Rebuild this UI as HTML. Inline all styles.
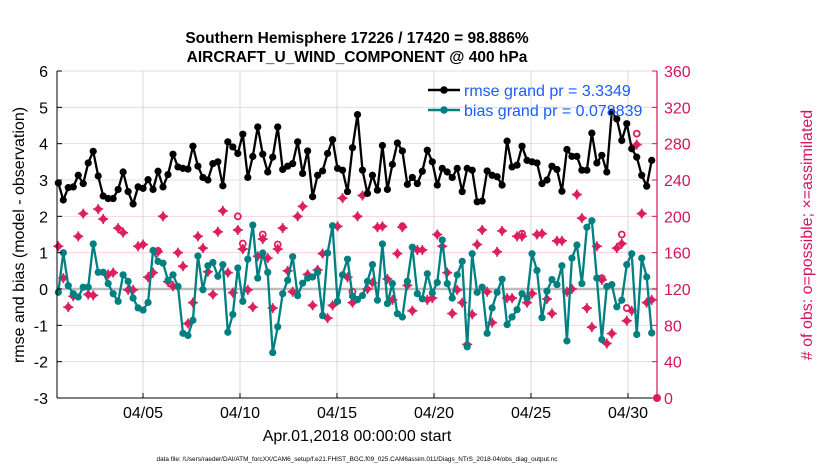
<!DOCTYPE html>
<html><head><meta charset="utf-8"><style>
body{margin:0;background:#fff;}
svg text{font-family:"Liberation Sans",sans-serif;}
</style></head><body>
<svg id="chart" width="830" height="470" viewBox="0 0 830 470" xmlns="http://www.w3.org/2000/svg">
<g id="grid"></g>
<g id="marks"></g>
<g id="axes"></g>
<text x="357" y="43" text-anchor="middle" font-size="15.5" font-weight="bold">Southern Hemisphere 17226 / 17420 = 98.886%</text>
<text x="357" y="62" text-anchor="middle" font-size="15.5" font-weight="bold">AIRCRAFT_U_WIND_COMPONENT @ 400 hPa</text>
<text transform="translate(24,235) rotate(-90)" text-anchor="middle" font-size="16">rmse and bias (model - observation)</text>
<text transform="translate(812,235) rotate(-90)" text-anchor="middle" font-size="16" fill="#d4145a"># of obs: o=possible; ×=assimilated</text>
<text x="357" y="441" text-anchor="middle" font-size="16">Apr.01,2018 00:00:00 start</text>
<text x="357" y="461" text-anchor="middle" font-size="6.4">data file: /Users/raeder/DAI/ATM_forcXX/CAM6_setup/f.e21.FHIST_BGC.f09_025.CAM6assim.011/Diags_NTrS_2018-04/obs_diag_output.nc</text>
<g>
<line x1="428" y1="90" x2="460" y2="90" stroke="#000" stroke-width="2.5"/><circle cx="444" cy="90" r="3.8" fill="#000"/>
<text x="464" y="96" font-size="16" fill="#1a5cff">rmse grand pr = 3.3349</text>
<line x1="428" y1="110" x2="460" y2="110" stroke="#008080" stroke-width="2.5"/><circle cx="444" cy="110" r="3.8" fill="#008080"/>
<text x="464" y="116" font-size="16" fill="#1a5cff">bias grand pr = 0.078839</text>
</g>
</svg>
<script>
const rmse=[2.92,2.45,2.79,2.81,3.13,2.90,3.47,3.79,3.11,2.56,2.49,2.49,2.74,3.22,2.68,2.34,2.81,2.77,3.01,2.74,3.24,2.81,3.15,3.71,3.36,3.32,3.30,3.93,3.38,3.07,3.00,
3.45,3.50,2.84,4.05,3.91,3.73,4.26,3.07,3.65,4.46,3.71,3.22,3.63,4.46,3.29,3.38,3.45,4.05,3.18,3.80,2.54,3.13,3.25,3.73,4.11,3.32,3.27,2.68,3.89,4.80,
3.27,2.63,3.13,2.72,3.95,2.74,3.43,4.02,3.80,2.88,3.07,2.90,3.24,3.82,3.50,2.86,3.32,3.22,3.07,3.32,2.68,3.32,3.27,2.40,2.42,3.25,3.13,3.09,2.86,4.07,
3.36,3.41,3.93,3.54,3.50,3.47,2.90,3.00,3.38,3.29,2.69,3.84,3.65,3.65,3.27,3.27,4.29,3.47,3.68,3.22,4.87,4.68,4.09,4.55,3.86,3.63,3.13,2.83,3.54];
const bias=[-0.09,1.00,0.09,-0.13,-0.22,0.05,0.05,1.24,0.46,0.46,0.15,-0.13,-0.34,0.39,0.21,-0.25,-0.52,-0.58,-0.37,1.06,0.76,0.71,0.24,0.39,0.07,-1.22,-1.28,-0.86,0.91,-0.02,0.64,
0.73,0.35,0.67,-1.19,-0.70,0.58,-0.34,0.82,1.76,0.30,0.99,0.46,-1.75,-1.04,-0.13,0.24,0.89,-0.18,0.16,0.30,0.33,0.46,-0.73,0.99,1.74,-0.34,0.39,0.82,-0.20,-0.29,
-0.18,0.21,0.67,-0.31,1.24,-0.40,0.15,-0.68,-0.77,0.21,1.15,-0.13,-0.27,0.42,-0.11,0.18,1.35,0.15,-0.25,0.39,0.76,-1.59,0.97,-0.09,0.05,-1.22,-0.52,-0.09,0.27,-0.98,
-0.77,-0.57,-0.13,-0.25,0.97,0.51,-0.79,-0.06,0.26,0.12,0.64,-1.43,0.85,1.21,0.15,1.70,1.88,0.30,-1.39,0.07,0.12,-0.49,-0.31,0.67,0.97,-1.25,0.85,0.33,-1.21];
const nused=[167,132,100,112,178,203,114,113,208,197,136,138,187,182,119,119,167,169,133,138,161,200,128,123,160,145,82,105,178,165,139,
114,183,206,138,116,185,164,119,100,156,175,154,99,164,187,140,117,200,211,136,102,141,159,88,102,189,220,133,105,200,
223,120,127,188,189,131,108,159,188,124,96,163,163,108,110,180,167,138,93,119,105,59,92,169,185,117,83,161,184,110,
110,178,178,105,115,180,181,109,93,173,173,117,120,224,198,99,78,167,130,60,71,165,170,85,96,279,203,105,108];
const possIdx=[20,36,37,41,44,59,69,93,109,113,114,116];
const possVal=[162,200,170,180,169,117,189,181,132,180,99,291];
const yTicks=[-3,-2,-1,0,1,2,3,4,5,6];
const y2Ticks=[0,40,80,120,160,200,240,280,320,360];
const xTickDays=[4,9,14,19,24,29];
const xTickLabels=["04/05","04/10","04/15","04/20","04/25","04/30"];
const endObs=0;

const NS="http://www.w3.org/2000/svg";
const L=57,R=657,T=71,B=398;
const y=v=>B-(v+3)/9*(B-T);
const y2=v=>B-v/360*(B-T);
const xd=d=>143+(d-4)*19.4;
const xi=i=>58.3+i*(651.7-58.3)/(rmse.length-1);
function mk(tag,attrs,parent){const e=document.createElementNS(NS,tag);for(const k in attrs)e.setAttribute(k,attrs[k]);parent.appendChild(e);return e;}
const grid=document.getElementById('grid'),marks=document.getElementById('marks'),axes=document.getElementById('axes');
yTicks.forEach(t=>{const l=mk('line',{x1:L,x2:R,y1:y(t),y2:y(t),stroke:'#f6d3e0','stroke-width':1},grid);

});
xTickDays.forEach(d=>{const l=mk('line',{x1:xd(d),x2:xd(d),y1:T,y2:B,stroke:'#d8d8d8','stroke-width':1},grid);

});
const z=mk('line',{x1:L,x2:R,y1:y(0),y2:y(0),stroke:'#bbbbbb','stroke-width':2.5},grid);


nused.forEach((v,i)=>{const cx=xi(i),cy=y2(v);
const g=mk('g',{},marks);


mk('path',{d:`M${cx-4.5},${cy}L${cx},${cy-4.5}L${cx+4.5},${cy}L${cx},${cy+4.5}Z`,fill:'#dc1f5e'},g);
mk('path',{d:`M${cx-5},${cy}H${cx+5}M${cx},${cy-5}V${cy+5}`,stroke:'#dc1f5e','stroke-width':1.6},g);});
possIdx.forEach((idx,k)=>{const c=mk('circle',{cx:xi(idx),cy:y2(possVal[k]),r:3,fill:'none',stroke:'#dc1f5e','stroke-width':1.8},marks);

});
const ec=mk('circle',{cx:R,cy:y2(endObs),r:4,fill:'#dc1f5e'},marks);


function series(arr,color,name){
const p=mk('polyline',{points:arr.map((v,i)=>xi(i)+','+y(v)).join(' '),fill:'none',stroke:color,'stroke-width':2.3},marks);


arr.forEach((v,i)=>{const c=mk('circle',{cx:xi(i),cy:y(v),r:3.6,fill:color},marks);

});}
series(bias,'#008080','bias');
series(rmse,'#000000','rmse');
const la=mk('line',{x1:L,x2:L,y1:T,y2:B,stroke:'#000','stroke-width':1},axes);


const ba=mk('line',{x1:L,x2:R,y1:B,y2:B,stroke:'#000','stroke-width':1},axes);


const ra=mk('line',{x1:R,x2:R,y1:T,y2:B,stroke:'#d4145a','stroke-width':1.2},axes);


yTicks.forEach(t=>{mk('line',{x1:L,x2:L+5,y1:y(t),y2:y(t),stroke:'#000'},axes);
const tx=mk('text',{x:L-9,y:y(t)+6,'text-anchor':'end','font-size':16},axes);tx.textContent=t;

});
y2Ticks.forEach(t=>{mk('line',{x1:R-5,x2:R,y1:y2(t),y2:y2(t),stroke:'#d4145a'},axes);
const tx=mk('text',{x:R+7,y:y2(t)+6,'font-size':16,fill:'#d4145a'},axes);tx.textContent=t;

});
xTickDays.forEach((d,k)=>{mk('line',{x1:xd(d),x2:xd(d),y1:B-5,y2:B,stroke:'#000'},axes);
const tx=mk('text',{x:xd(d),y:B+20,'text-anchor':'middle','font-size':16},axes);tx.textContent=xTickLabels[k];

});
</script>
</body></html>
